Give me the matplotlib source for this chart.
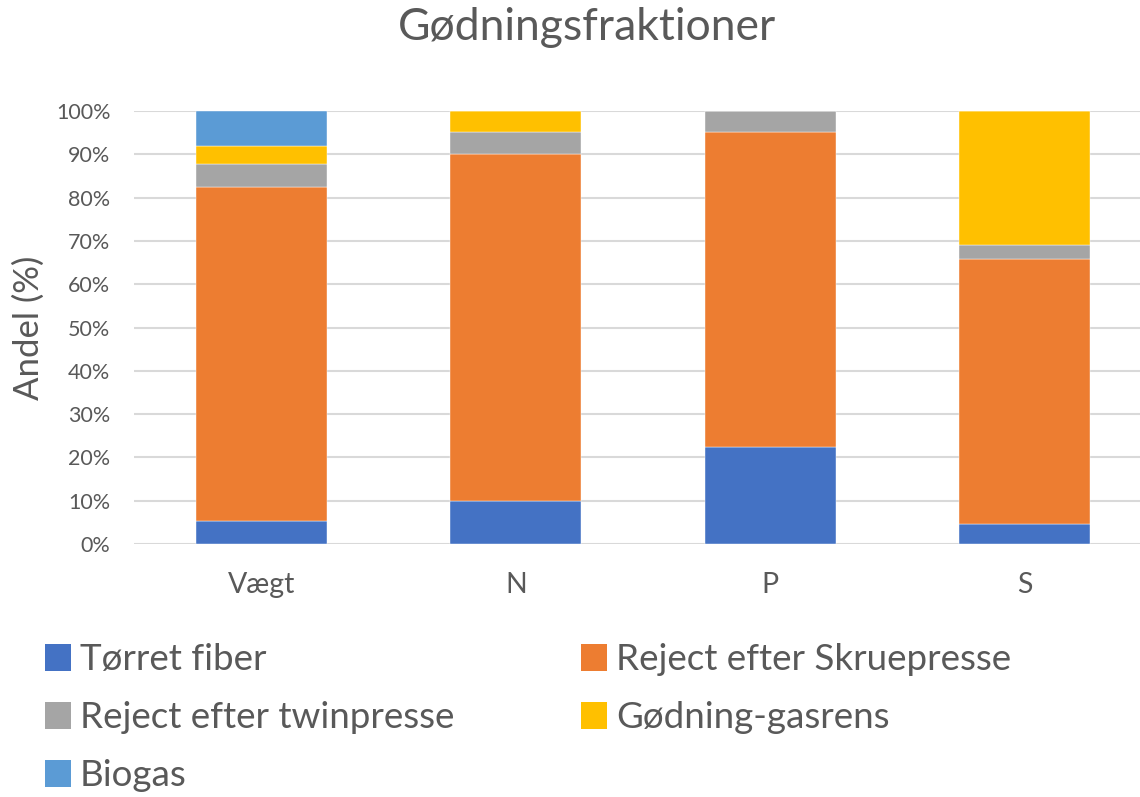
import matplotlib
matplotlib.use("Agg")
import matplotlib.pyplot as plt
from matplotlib.patches import Patch
import numpy as np

plt.rcParams['font.family'] = ['Lato', 'DejaVu Sans']

categories = ["Vægt", "N", "P", "S"]
series_names = ["Tørret fiber", "Reject efter Skruepresse", "Reject efter twinpresse",
                "Gødning-gasrens", "Biogas"]
torret_fiber = [5.2, 10.0, 22.5, 4.6]
reject_skrue = [77.2, 80.0, 72.7, 61.3]
reject_twin = [5.4, 5.2, 4.8, 3.1]
gasrens = [4.2, 4.8, 0.0, 31.0]
biogas = [8.0, 0.0, 0.0, 0.0]
colors = ["#4472C4", "#ED7D31", "#A5A5A5", "#FFC000", "#5B9BD5"]
yticks = [0, 10, 20, 30, 40, 50, 60, 70, 80, 90, 100]
ytick_labels = [f"{v}%" for v in yticks]

W, H = 1140, 797
fig = plt.figure(figsize=(W / 100, H / 100), dpi=100)
left_px, right_px, bottom_px, top_px = 134, 1140, 544, 111
ax = fig.add_axes([left_px / W, (H - bottom_px) / H, (right_px - left_px) / W, (bottom_px - top_px) / H])

x = np.arange(len(categories))
data = [torret_fiber, reject_skrue, reject_twin, gasrens, biogas]
bottom = np.zeros(len(categories))
handles = []
for name, vals, c in zip(series_names, data, colors):
    vals = np.array(vals)
    ax.bar(x, vals, 0.515, bottom=bottom, color=c, zorder=3, edgecolor='white', linewidth=0.3)
    bottom += vals
    handles.append(Patch(facecolor=c, label=name))

spacing = 254.5
ax.set_xlim(-0.5, -0.5 + (right_px - left_px) / spacing)
ax.set_ylim(0, 100)
ax.set_yticks(yticks)
ax.set_yticklabels(ytick_labels, fontsize=15.5, color="#595959")
ax.set_xticks(x)
ax.set_xticklabels(categories, fontsize=20.5, color="#595959")
ax.tick_params(axis='both', length=0)
ax.tick_params(axis='x', pad=20)
ax.tick_params(axis='y', pad=17)
ax.grid(axis='y', color='#D9D9D9', linewidth=1.5, zorder=0)
for s in ax.spines.values():
    s.set_visible(False)

ax.set_ylabel("Andel (%)", fontsize=25, color="#595959")
ax.yaxis.label.set_verticalalignment('center')
ax.yaxis.set_label_coords(29 / W, (H - 328) / H, transform=fig.transFigure)

fig.text(587 / W, 1 - 27 / H, "Gødningsfraktioner", ha='center', va='center',
         fontsize=32, color="#595959")

order = [0, 2, 4, 1, 3]
leg = fig.legend([handles[i] for i in order], [series_names[i] for i in order],
                 ncol=2, loc='upper left', bbox_to_anchor=(12 / W, 1 - 610 / H),
                 frameon=False, fontsize=26.5, handlelength=0.7, handleheight=0.75,
                 handletextpad=0.25, columnspacing=3.45, labelspacing=0.68,
                 labelcolor="#595959")

fig.savefig("out.png", dpi=100)
